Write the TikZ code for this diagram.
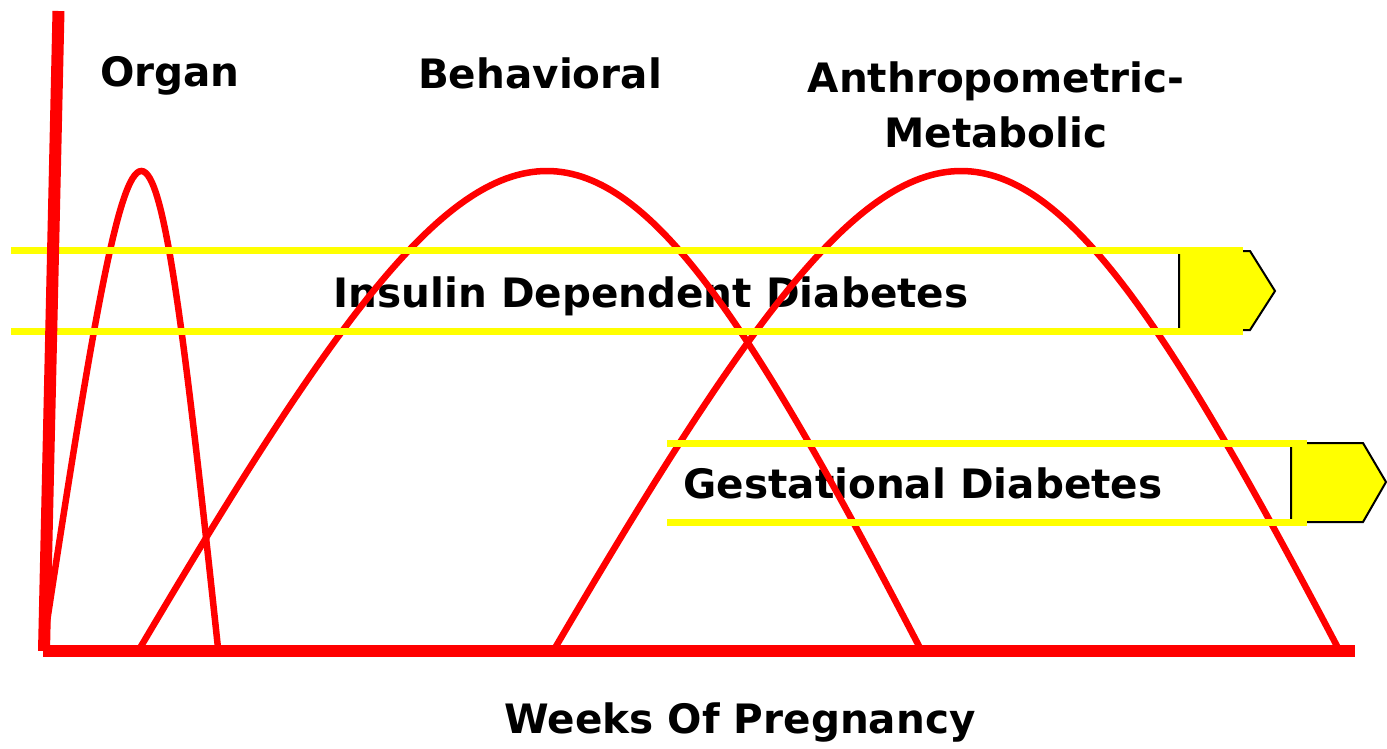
\documentclass[tikz,border=0pt]{standalone}
\usepackage{fontspec}
\setmainfont{DejaVu Sans}
\usetikzlibrary{positioning}
\definecolor{curvered}{RGB}{255,0,0}
\definecolor{bandyellow}{RGB}{255,255,0}

\begin{document}
\begin{tikzpicture}[x=1pt, y=-1pt,
  every node/.style={font=\bfseries\fontsize{40.5}{48}\selectfont, inner sep=0pt, anchor=base},
  curve/.style={curvered, line width=6.5pt},
  axis/.style={curvered, line width=12pt},
  band/.style={bandyellow, line width=7pt},
  tipbox/.style={draw=black, fill=bandyellow, line width=2pt}
]
\useasboundingbox (0,0) rectangle (1387,748);

% labels
\node (organ) at (170,86) {Organ};
\node (behav) at (540,88) {Behavioral};
\node (anthro) at (996,92) {Anthropometric-};
\node (metab) at (996,147) {Metabolic};
\node (insulin) at (651,307) {Insulin Dependent Diabetes};
\node (gest) at (923,498) {Gestational Diabetes};
\node (weeks) at (740,733) {Weeks Of Pregnancy};

% development curves
\draw[curve] (43,648) .. controls (140,12) and (150,12) .. (218,648);
\draw[curve] (140,648) .. controls (516,12) and (589,12) .. (920,648);
\draw[curve] (555,648) .. controls (928,12) and (1004,12) .. (1338,648);

% arrow heads of the bands
\draw[tipbox] (1179,251) -- (1250,251) -- (1275,291) -- (1250,330) -- (1179,330) -- cycle;
\draw[tipbox] (1291,443) -- (1363,443) -- (1386,482) -- (1363,522) -- (1291,522) -- cycle;

% bands
\draw[band] (11,250.5) -- (1243,250.5);
\draw[band] (11,331) -- (1243,331);
\draw[band] (667,443) -- (1307,443);
\draw[band] (667,522) -- (1307,522);

% axes
\draw[axis] (58.5,11) -- (44,651);
\draw[axis] (43,651) -- (1355,651);
\end{tikzpicture}
\end{document}
